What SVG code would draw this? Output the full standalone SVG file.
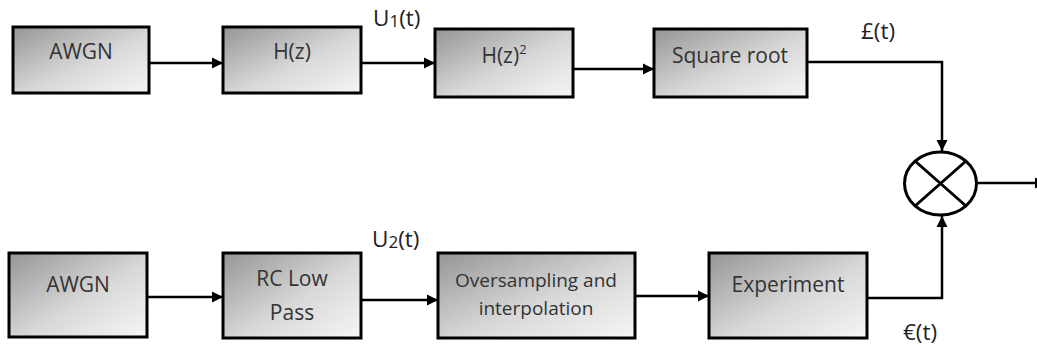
<svg xmlns="http://www.w3.org/2000/svg" width="1037" height="347" viewBox="0 0 1037 347">
<defs>
<linearGradient id="g" x1="0" y1="0" x2="1" y2="1">
<stop offset="0" stop-color="#959595"/>
<stop offset="0.55" stop-color="#d8d8d8"/>
<stop offset="1" stop-color="#f6f6f6"/>
</linearGradient>
<marker id="ah" markerUnits="userSpaceOnUse" markerWidth="12" markerHeight="12" refX="11" refY="6" orient="auto">
<path d="M0,0.5 L11,6 L0,11.5 z" fill="#000"/>
</marker>
<style>
.box{fill:url(#g);stroke:#000;stroke-width:3}
.t{font-family:"Open Sans","Liberation Sans",sans-serif;font-size:21px;fill:#333;text-anchor:middle}
.s{font-size:19px}
.l{font-family:"Open Sans","Liberation Sans",sans-serif;font-size:22.5px;fill:#222}
.c{fill:none;stroke:#000;stroke-width:2.5}
</style>
</defs>
<g id="awgn1"><rect class="box" x="13" y="27" width="136" height="66"/><text class="t" x="81" y="59">AWGN</text></g>
<g id="hz"><rect class="box" x="223" y="27" width="138" height="66"/><text class="t" x="292" y="59">H(z)</text></g>
<g id="hz2"><rect class="box" x="435" y="29" width="138" height="68"/><text class="t" x="504" y="63">H(z)<tspan font-size="13" dy="-9">2</tspan></text></g>
<g id="sqrt"><rect class="box" x="654" y="29" width="153" height="68"/><text class="t" x="730" y="63">Square root</text></g>
<g id="awgn2"><rect class="box" x="9" y="253" width="138" height="84"/><text class="t" x="78" y="292">AWGN</text></g>
<g id="rc"><rect class="box" x="223" y="253" width="138" height="85"/><text class="t" x="292" y="286">RC Low</text><text class="t" x="292" y="320">Pass</text></g>
<g id="over"><rect class="box" x="438" y="253" width="197" height="85"/><text class="t s" x="536" y="287">Oversampling and</text><text class="t s" x="536" y="315">interpolation</text></g>
<g id="exp"><rect class="box" x="709" y="253" width="158" height="85"/><text class="t" x="788" y="292">Experiment</text></g>
<g id="mult"><ellipse cx="940.5" cy="183.5" rx="36" ry="31.5" fill="#fff" stroke="#000" stroke-width="3"/><path d="M915,161 L966,206 M966,161 L915,206" stroke="#000" stroke-width="3"/></g>
<g id="labels">
<text class="l" x="373" y="26">U<tspan font-size="17" dy="1">1</tspan><tspan dy="-1">(t)</tspan></text>
<text class="l" x="372" y="247">U<tspan font-size="17" dy="1">2</tspan><tspan dy="-1">(t)</tspan></text>
<text class="l" x="861" y="39">£(t)</text>
<text class="l" x="903" y="340">€(t)</text>
</g>
<g id="connectors">
<path class="c" d="M149,63 L223,63" marker-end="url(#ah)"/>
<path class="c" d="M361,63 L435,63" marker-end="url(#ah)"/>
<path class="c" d="M573,69 L654,69" marker-end="url(#ah)"/>
<path class="c" d="M807,62 L942,62 L942,151" marker-end="url(#ah)"/>
<path class="c" d="M147,297 L223,297" marker-end="url(#ah)"/>
<path class="c" d="M361,300 L438,300" marker-end="url(#ah)"/>
<path class="c" d="M635,296 L709,296" marker-end="url(#ah)"/>
<path class="c" d="M867,298 L942,298 L942,216" marker-end="url(#ah)"/>
<path class="c" d="M977,183 L1046,183" marker-end="url(#ah)"/>
</g>
</svg>
